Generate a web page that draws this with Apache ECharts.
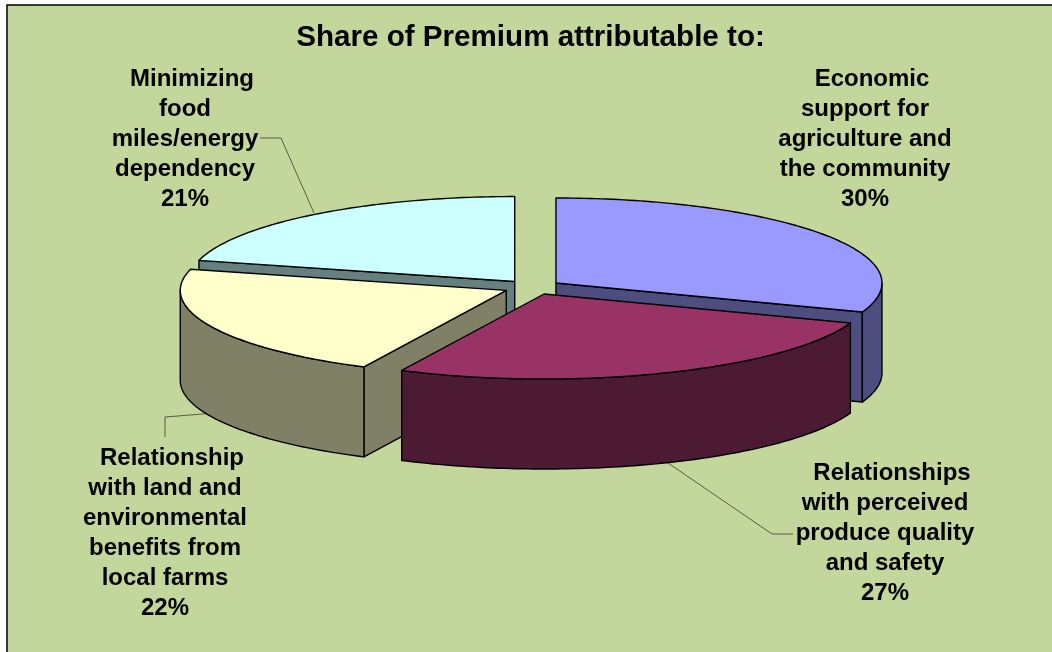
<!DOCTYPE html>
<html>
<head>
<meta charset="utf-8">
<style>html,body{margin:0;padding:0;background:#fff}#c{width:1052px;height:652px}</style>
<script src="https://cdn.jsdelivr.net/npm/echarts@6/dist/echarts.min.js"></script>
</head>
<body>
<div id="c"></div>
<script>
// Data
var titleText = 'Share of Premium attributable to:';
var sliceNames = ['Economic support for agriculture and the community','Relationships with perceived produce quality and safety','Relationship with land and environmental benefits from local farms','Minimizing food miles/energy dependency'];
var shareValues = [30, 27, 22, 21];
var labelLines = [
  ['Economic','support for','agriculture and','the community'],
  ['Relationships','with perceived','produce quality','and safety'],
  ['Relationship','with land and','environmental','benefits from','local farms'],
  ['Minimizing','food','miles/energy','dependency']
];
// Styles
var topColors = ['#9999ff','#993366','#ffffcc','#ccffff'];
var sideColors = ['#4d4d80','#4c1a33','#808066','#668080'];
var paintOrder = [3, 0, 2, 1];
var labelCentres = [[865,79],[885,473],[165,458],[185,79]];
var leaderPaths = [
  null,
  [[668,463],[772,534],[793,534]],
  [[165,437],[165,417],[215,413]],
  [[260,138],[281,138],[314,213]]
];
var PIE = {cx:532.5, cy:287.3, rx:326, ry:85, depth:90, ex:29, ey:7.3};
var BG = '#c3d69b', LINE = '#000', LEAD = '#555c45';
var FONT = '"Liberation Sans", Arial, sans-serif';

var total = shareValues.reduce(function(a,b){return a+b;},0);
var starts = [], acc = 0;
shareValues.forEach(function(v){ starts.push(acc/total*360); acc += v; });

function rad(d){return d*Math.PI/180;}
// small view-perspective correction of the drawn angle, zero at the back of the pie
function view(a){ return a < 230 ? a + 2*Math.sin(rad(a*0.78)) : a; }

function renderSlice(params, api){
  var i = api.value(0);
  var t0 = starts[i], t1 = t0 + shareValues[i]/total*360, mid = (t0+t1)/2;
  var a0 = view(t0), a1 = view(t1);
  var cx = PIE.cx + PIE.ex*Math.sin(rad(mid));
  var cy = PIE.cy - PIE.ey*Math.cos(rad(mid));
  function pt(a,dz){ return [cx+PIE.rx*Math.sin(rad(a)), cy-PIE.ry*Math.cos(rad(a))+(dz||0)]; }
  function arc(from,to,dz){ var p=[],n=Math.max(2,Math.ceil(Math.abs(to-from))); for(var k=0;k<=n;k++){p.push(pt(from+(to-from)*k/n,dz));} return p; }
  var apex=[cx,cy], apexB=[cx,cy+PIE.depth];
  var kids=[];
  var sideStyle={fill:sideColors[i],stroke:LINE,lineWidth:1.4,lineJoin:'round'};
  function face(a){ kids.push({type:'polygon',shape:{points:[apex,pt(a),pt(a,PIE.depth),apexB]},style:sideStyle,silent:true}); }
  if(Math.sin(rad(a0))<-0.001) face(a0);
  if(Math.sin(rad(a1))>0.001) face(a1);
  var w0=Math.max(a0,90), w1=Math.min(a1,270);
  if(w1>w0){
    kids.push({type:'polygon',shape:{points:arc(w0,w1,0).concat(arc(w1,w0,PIE.depth))},style:sideStyle,silent:true});
  }
  kids.push({type:'polygon',shape:{points:[apex].concat(arc(a0,a1,0))},
    style:{fill:topColors[i],stroke:LINE,lineWidth:1.4,lineJoin:'round'},silent:true});
  return {type:'group',children:kids};
}

function renderLabels(){
  var kids=[];
  leaderPaths.forEach(function(p){ if(p) kids.push({type:'polyline',shape:{points:p},style:{fill:null,stroke:LEAD,lineWidth:1},silent:true}); });
  labelLines.forEach(function(lines,i){
    var c=labelCentres[i];
    lines.concat([shareValues[i]+'%']).forEach(function(t,k){
      kids.push({type:'text',silent:true,style:{text:t,x:c[0]+(k===0?7:0),y:c[1]+k*30,align:'center',verticalAlign:'middle',
        font:'bold 24px '+FONT,fill:'#000'}});
    });
  });
  return {type:'group',children:kids};
}

var chart = echarts.init(document.getElementById('c'),null,{renderer:'canvas'});
chart.setOption({
  animation:false,
  backgroundColor:'#fff',
  title:{text:titleText,left:525.5,top:33,textAlign:'center',textVerticalAlign:'middle',
    textStyle:{fontFamily:FONT,fontWeight:'bold',fontSize:29.6,color:'#000'}},
  graphic:[{type:'rect',z:-10,silent:true,shape:{x:7,y:5,width:1060,height:660},style:{fill:BG,stroke:'#000',lineWidth:1.5}}],
  series:[
    {type:'custom',coordinateSystem:'none',silent:true,z:2,renderItem:renderSlice,
     data:paintOrder.map(function(i){return {name:sliceNames[i],value:[i,shareValues[i]]};})},
    {type:'custom',coordinateSystem:'none',silent:true,z:1,renderItem:renderLabels,data:[[0]]}
  ]
});
</script>
</body>
</html>
